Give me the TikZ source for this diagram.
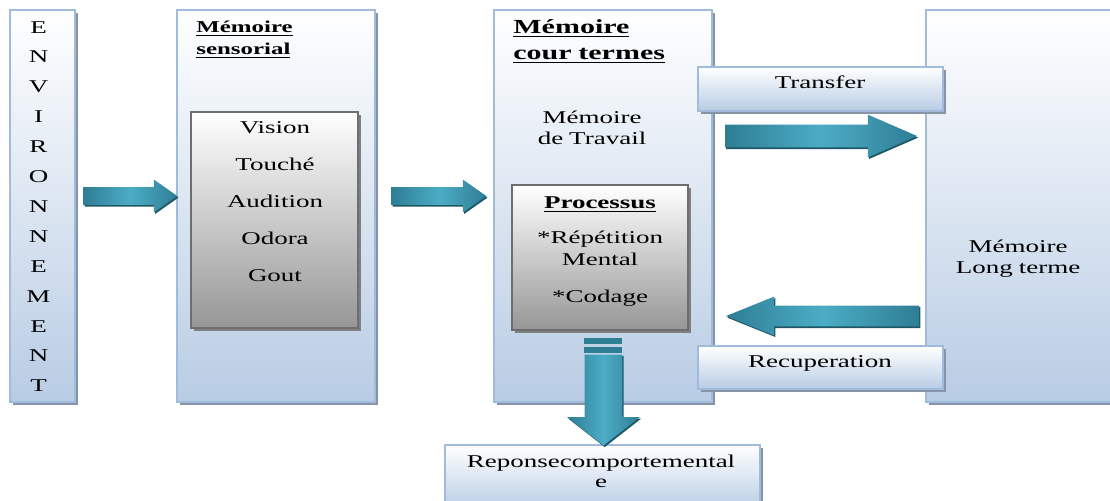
\documentclass[tikz,border=0pt]{standalone}
\usepackage{fontspec}
\setmainfont{Liberation Serif}[FakeStretch=1.5]
\usetikzlibrary{shapes.arrows,shadows,fit}
\definecolor{boxline}{RGB}{160,187,220}
\definecolor{boxbot}{RGB}{184,204,228}
\definecolor{shadowgray}{RGB}{135,148,168}
\definecolor{greyline}{RGB}{110,110,110}
\definecolor{greybot}{RGB}{150,150,150}
\definecolor{tealdark}{RGB}{46,126,148}
\definecolor{teallight}{RGB}{76,172,198}
\definecolor{tealshadow}{RGB}{30,88,104}
\tikzset{
  membox/.style={draw=boxline, line width=0.7pt, inner sep=0pt,
    top color=white, bottom color=boxbot,
    drop shadow={shadow xshift=1.5pt, shadow yshift=-1.5pt, fill=shadowgray, opacity=1}},
  sensebox/.style={draw=greyline, line width=0.7pt, inner sep=0pt,
    top color=white, bottom color=greybot,
    drop shadow={shadow xshift=1.5pt, shadow yshift=-1.5pt, fill=gray, opacity=1}},
  bigarrow/.style={single arrow, draw=none, inner xsep=0pt, anchor=tip,
    left color=tealdark, right color=tealdark, middle color=teallight,
    drop shadow={shadow xshift=0.6pt, shadow yshift=-0.8pt, fill=tealshadow, opacity=1}},
  txt/.style={anchor=base, inner sep=0pt, text width=160pt, align=center},
  head/.style={anchor=base west, inner sep=0pt, text width=160pt, align=left, font=\bfseries}
}
\begin{document}
\begin{tikzpicture}[x=0.5pt,y=-0.5pt,font=\fontsize{9pt}{11pt}\selectfont]
\useasboundingbox (0,0) rectangle (1110,500);
% memory boxes
\node[membox, fit={(10,10) (75,402)}] (envbox) {};
\node[membox, fit={(177,10) (375,402)}] (sensbox) {};
\node[membox, fit={(494,10) (712,402)}] (mctbox) {};
\node[membox, fit={(926,10) (1140,402)}] (mltbox) {};
\node[membox, fit={(445,445) (760,510)}] (repbox) {};
\node[sensebox, fit={(191,112) (358,328)}] (channels) {};
\node[sensebox, fit={(512,185) (688,330)}] (process) {};
% environment
\foreach \l [count=\i] in {E,N,V,I,R,O,N,N,E,M,E,N,T}
  \node[anchor=base, inner sep=0pt] (env\i) at (38.5,{33+29.9*(\i-1)}) {\l};
% sensory memory
\node[head, font=\fontsize{8.3pt}{11pt}\selectfont\bfseries] (sensT) at (196,32)
  {\underline{Mémoire}\\\underline{sensorial}};
\foreach \w [count=\i] in {Vision,Touché,Audition,Odora,Gout}
  \node[anchor=base, inner sep=0pt] (sens\i) at (275,{133+37*(\i-1)}) {\w};
% short term memory
\node[head] (mctT) at (513,33) {\underline{Mémoire}\\[1pt]\underline{cour termes}};
\node[txt, font=\fontsize{9pt}{10.5pt}\selectfont] (work) at (592,123) {Mémoire\\de Travail};
\node[txt] (procT) at (600,208) {\textbf{\underline{Processus}}\\[6.5pt]*Répétition\\Mental\\[7.5pt]*Codage};
% long term memory
\node[txt, font=\fontsize{9pt}{10.5pt}\selectfont] (mltT) at (1018,252) {Mémoire\\Long terme};
% arrows
\node[bigarrow, minimum height=47pt, inner ysep=4.25pt, single arrow head extend=3.75pt,
  single arrow tip angle=70] (a1) at (178,196) {};
\node[bigarrow, minimum height=47.5pt, inner ysep=4.25pt, single arrow head extend=3.75pt,
  single arrow tip angle=70] (a2) at (487,196) {};
\node[bigarrow, minimum height=96pt, inner ysep=5.5pt, single arrow head extend=5pt,
  single arrow tip angle=47] (a3) at (918,136) {};
\node[bigarrow, rotate=180, minimum height=96.5pt, inner ysep=5pt, single arrow head extend=4.5pt,
  single arrow tip angle=44] (a4) at (725,316) {};
\fill[tealdark] (584,338) rectangle (622,344);
\fill[tealdark] (584,347) rectangle (622,353);
\node[bigarrow, rotate=-90, minimum height=45.5pt, inner ysep=9.25pt, single arrow head extend=8.75pt,
  single arrow tip angle=104] (a5) at (603.5,446) {};
% transfer boxes
\node[membox, fit={(698,67) (943,111)}] (transbox) {};
\node[membox, fit={(698,346) (943,389)}] (recupbox) {};
\node[txt] (transT) at (820,88) {Transfer};
\node[txt] (recupT) at (820,367) {Recuperation};
\node[txt] (repT) at (601,467) {Reponsecomportemental\\[-1pt]e};
\end{tikzpicture}
\end{document}
